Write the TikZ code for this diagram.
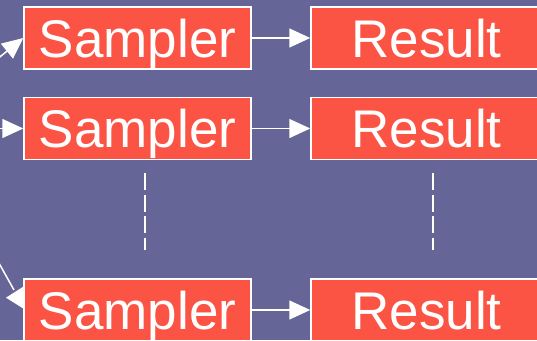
\documentclass[tikz,border=0pt]{standalone}
\usepackage{fontspec}
\setmainfont{Liberation Sans}
\usetikzlibrary{arrows.meta}
\definecolor{bgblue}{RGB}{101,101,151}
\definecolor{boxred}{RGB}{252,84,68}
\tikzset{
  stage/.style={draw=white, line width=1.5pt, fill=boxred, text=white,
    inner sep=0pt, minimum height=62pt, text height=50pt, text depth=12pt,
    font=\fontsize{53}{53}\selectfont},
  flow/.style={draw=white, line width=1.5pt,
    -{Triangle[length=21pt,width=19pt]}},
  gap/.style={draw=white, line width=2pt, dash pattern=on 17pt off 4.5pt}
}
\begin{document}
\begin{tikzpicture}[x=1pt,y=-1pt]
  \useasboundingbox (0,0) rectangle (537,340);
  \fill[bgblue] (0,0) rectangle (537,340);
  \clip (0,0) rectangle (537,340);

  % samplers and their results, three rows
  \node[stage, minimum width=227pt] (s1) at (137.5,38)  {Sampler};
  \node[stage, minimum width=227pt] (s2) at (137.5,128.5) {Sampler};
  \node[stage, minimum width=227pt] (s3) at (137.5,310) {Sampler};
  \node[stage, minimum width=231pt] (r1) at (426.5,38)  {Result};
  \node[stage, minimum width=231pt] (r2) at (426.5,128.5) {Result};
  \node[stage, minimum width=231pt] (r3) at (426.5,310) {Result};

  % incoming feeds
  \coordinate (in1) at (-12,66.5);
  \coordinate (in2) at (-10,128.5);
  \coordinate (in3) at (-5,256);
  \coordinate (k3) at (14,290);
  \draw[flow] (in1) -- (s1.west);
  \draw[flow] (in2) -- (s2.west);
  \draw[draw=white, line width=1.5pt] (in3) -- (k3);
  \fill[white] (6,297.7) -- (s3.west |- 0,286.7) -- (s3.west |- 0,308.5) -- cycle;

  % sampler to result
  \draw[flow] (s1.east) -- (r1.west);
  \draw[flow] (s2.east) -- (r2.west);
  \draw[flow] (s3.east) -- (r3.west);

  % elided rows
  \coordinate (d1a) at (145,173);
  \coordinate (d1b) at (145,250);
  \coordinate (d2a) at (433,173);
  \coordinate (d2b) at (433,250);
  \draw[gap] (d1a) -- (d1b);
  \draw[gap] (d2a) -- (d2b);
\end{tikzpicture}
\end{document}
